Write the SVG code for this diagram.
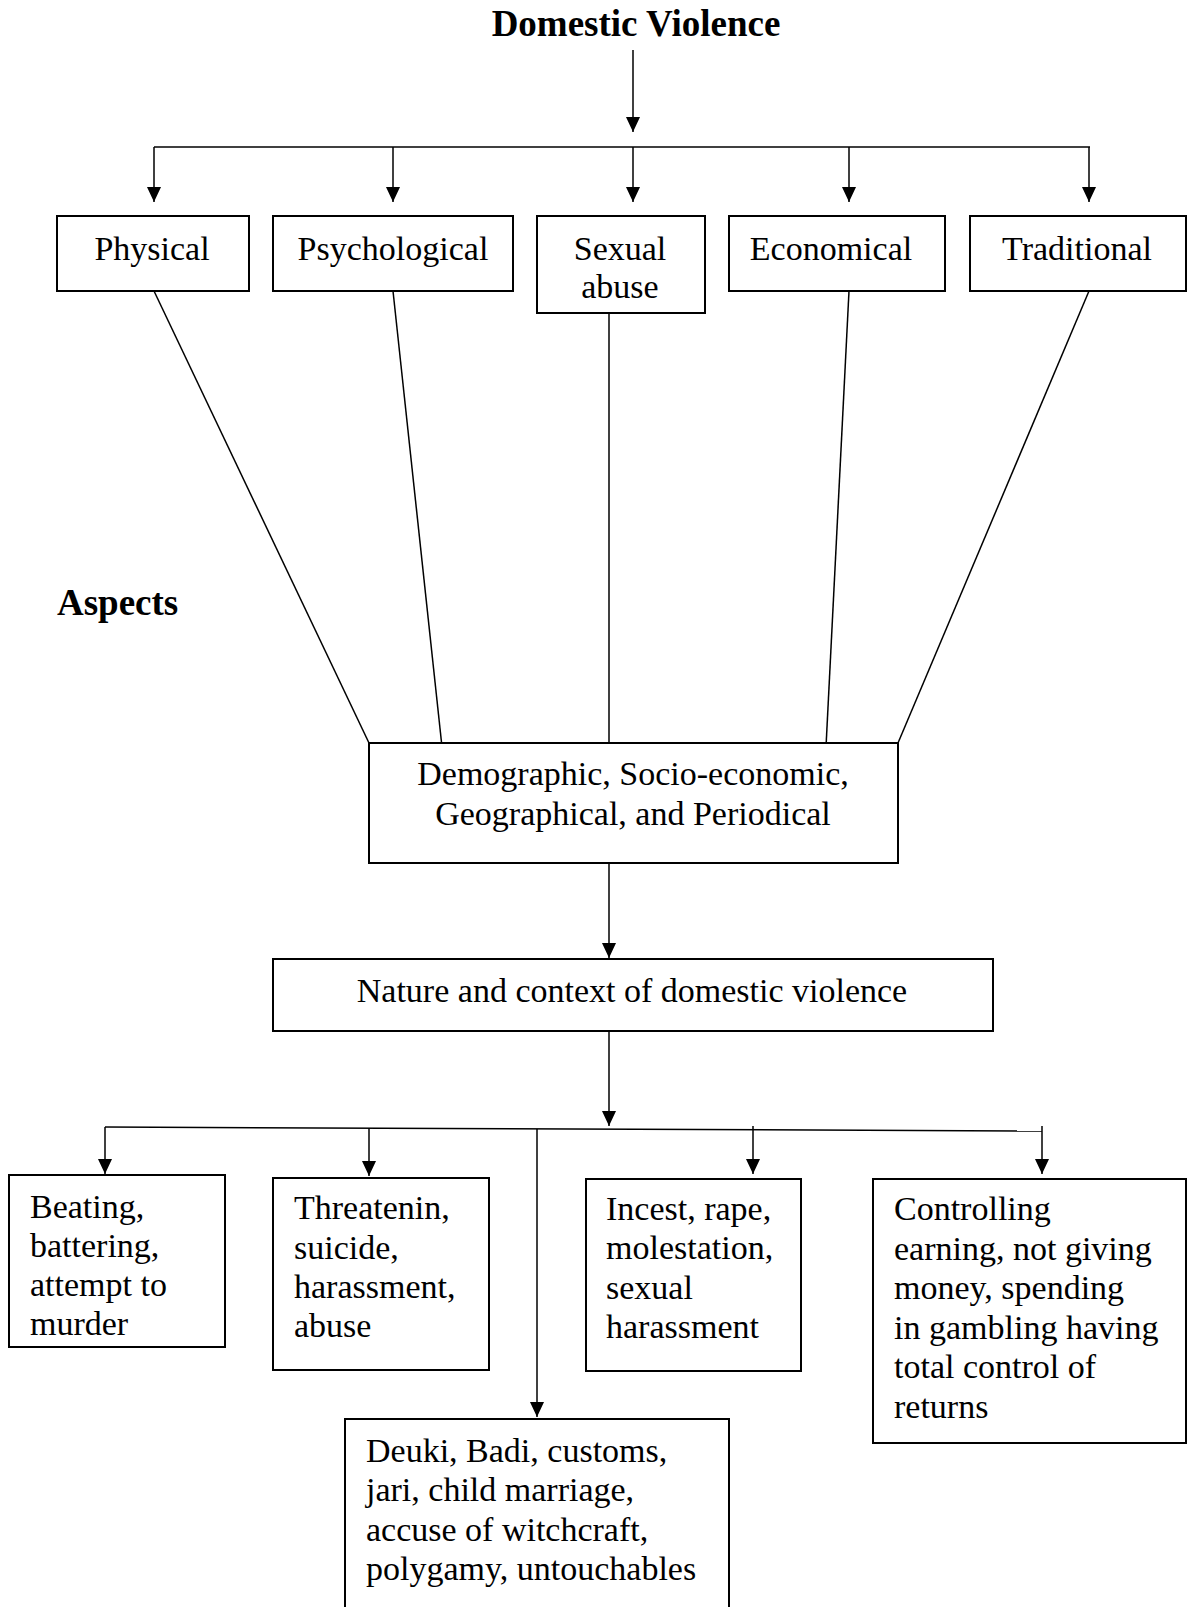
<svg xmlns="http://www.w3.org/2000/svg" width="1188" height="1607" viewBox="0 0 1188 1607">
<style>
text{font-family:"Liberation Serif","Times New Roman",serif;font-size:34px;fill:#000}
.b{font-weight:bold;font-size:37px}
.c{text-anchor:middle}
.box{fill:#fff;stroke:#000;stroke-width:2}
.ln{fill:none;stroke:#000;stroke-width:1.5}
</style>
<defs>
<marker id="ah" viewBox="0 0 15 14" refX="15" refY="7" markerWidth="15" markerHeight="14" markerUnits="userSpaceOnUse" orient="auto">
<path d="M0,0 L15,7 L0,14 z" fill="#000"/>
</marker>
</defs>
<rect width="1188" height="1607" fill="#fff"/>
<g id="connectors">
<line class="ln" x1="633" y1="50" x2="633" y2="132" marker-end="url(#ah)"/>
<line class="ln" x1="154" y1="147" x2="1090" y2="147"/>
<line class="ln" x1="154" y1="147" x2="154" y2="202" marker-end="url(#ah)"/>
<line class="ln" x1="393" y1="147" x2="393" y2="202" marker-end="url(#ah)"/>
<line class="ln" x1="633" y1="147" x2="633" y2="202" marker-end="url(#ah)"/>
<line class="ln" x1="849" y1="147" x2="849" y2="202" marker-end="url(#ah)"/>
<line class="ln" x1="1089" y1="147" x2="1089" y2="202" marker-end="url(#ah)"/>
<line class="ln" x1="154" y1="291" x2="369" y2="743"/>
<line class="ln" x1="393" y1="291" x2="442" y2="747"/>
<line class="ln" x1="609" y1="313" x2="609" y2="743"/>
<line class="ln" x1="849" y1="291" x2="826" y2="747"/>
<line class="ln" x1="1089" y1="291" x2="898" y2="743"/>
<line class="ln" x1="609" y1="863" x2="609" y2="958" marker-end="url(#ah)"/>
<line class="ln" x1="609" y1="1032" x2="609" y2="1126" marker-end="url(#ah)"/>
<line class="ln" x1="105" y1="1127" x2="1042" y2="1131"/>
<line class="ln" x1="105" y1="1127" x2="105" y2="1174" marker-end="url(#ah)"/>
<line class="ln" x1="369" y1="1128" x2="369" y2="1176" marker-end="url(#ah)"/>
<line class="ln" x1="537" y1="1129" x2="537" y2="1417" marker-end="url(#ah)"/>
<line class="ln" x1="753" y1="1126" x2="753" y2="1174" marker-end="url(#ah)"/>
<line class="ln" x1="1042" y1="1126" x2="1042" y2="1174" marker-end="url(#ah)"/>
</g>
<g id="title"><text class="b c" x="636" y="36">Domestic Violence</text></g>
<g id="aspects"><text class="b" x="57" y="615">Aspects</text></g>
<g id="physical"><rect class="box" x="57" y="216" width="192" height="75"/><text class="c" x="152" y="260">Physical</text></g>
<g id="psychological"><rect class="box" x="273" y="216" width="240" height="75"/><text class="c" x="393" y="260">Psychological</text></g>
<g id="sexual"><rect class="box" x="537" y="216" width="168" height="97"/><text class="c" x="620" y="260">Sexual</text><text class="c" x="620" y="298">abuse</text></g>
<g id="economical"><rect class="box" x="729" y="216" width="216" height="75"/><text class="c" x="831" y="260">Economical</text></g>
<g id="traditional"><rect class="box" x="970" y="216" width="216" height="75"/><text class="c" x="1077" y="260">Traditional</text></g>
<g id="demographic"><rect class="box" x="369" y="743" width="529" height="120"/><text class="c" x="633" y="785">Demographic, Socio-economic,</text><text class="c" x="633" y="825">Geographical, and Periodical</text></g>
<g id="nature"><rect class="box" x="273" y="959" width="720" height="72"/><text class="c" x="632" y="1002">Nature and context of domestic violence</text></g>
<g id="beating"><rect class="box" x="9" y="1175" width="216" height="172"/>
<text x="30" y="1218">Beating,</text><text x="30" y="1257">battering,</text><text x="30" y="1296">attempt to</text><text x="30" y="1335">murder</text></g>
<g id="threatening"><rect class="box" x="273" y="1178" width="216" height="192"/>
<text x="294" y="1219">Threatenin,</text><text x="294" y="1259">suicide,</text><text x="294" y="1298">harassment,</text><text x="294" y="1337">abuse</text></g>
<g id="incest"><rect class="box" x="586" y="1179" width="215" height="192"/>
<text x="606" y="1220">Incest, rape,</text><text x="606" y="1259">molestation,</text><text x="606" y="1299">sexual</text><text x="606" y="1338">harassment</text></g>
<g id="controlling"><rect class="box" x="873" y="1179" width="313" height="264"/>
<text x="894" y="1220">Controlling</text><text x="894" y="1260">earning, not giving</text><text x="894" y="1299">money, spending</text><text x="894" y="1339">in gambling having</text><text x="894" y="1378">total control of</text><text x="894" y="1418">returns</text></g>
<g id="deuki"><rect class="box" x="345" y="1419" width="384" height="200"/>
<text x="366" y="1462">Deuki, Badi, customs,</text><text x="366" y="1501">jari, child marriage,</text><text x="366" y="1541">accuse of witchcraft,</text><text x="366" y="1580">polygamy, untouchables</text></g>
</svg>
